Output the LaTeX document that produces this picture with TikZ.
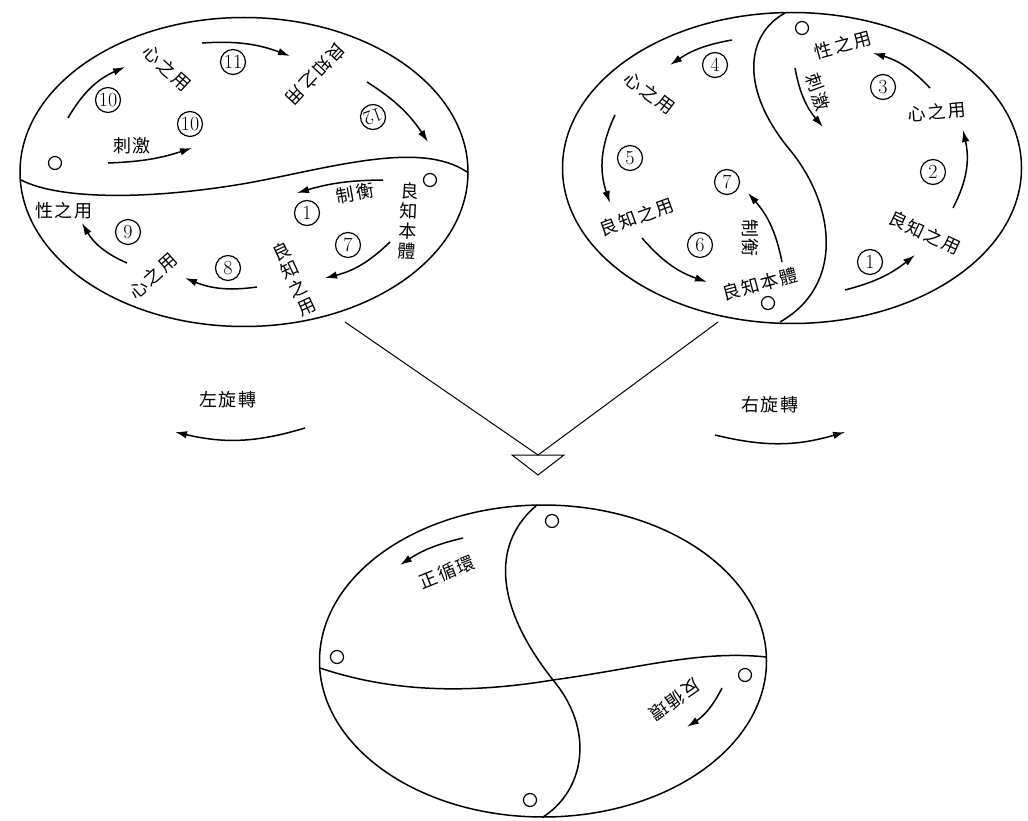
\documentclass[tikz,border=0pt]{standalone}
\usepackage{fontspec}
\newfontfamily\cjk[LetterSpace=10]{Noto Sans CJK TC}
\usetikzlibrary{arrows.meta,shapes.geometric}
\begin{document}
\begin{tikzpicture}[x=1pt,y=-1pt,
  ring/.style={draw, ellipse, inner sep=0pt, outer sep=0pt, line width=1.5pt},
  divline/.style={line width=1.5pt},
  dot/.style={draw, circle, minimum size=13pt, inner sep=0pt, line width=1.2pt},
  num/.style={draw, circle, minimum size=25pt, inner sep=0pt, line width=1.2pt, font=\fontsize{20}{20}\selectfont},
  lab/.style={font=\cjk\fontsize{18}{20}\selectfont, inner sep=0pt},
  vlab/.style={font=\cjk\fontsize{18}{20}\selectfont, inner sep=0pt, align=center},
  arr/.style={line width=1.5pt, -{Latex[length=12pt,width=7.5pt]}},
  thin/.style={line width=1pt}
]
\useasboundingbox (0,0) rectangle (1028,821);

% ---------- left ellipse ----------
\node[ring, minimum width=448pt, minimum height=309pt] (L) at (244,172) {};
\coordinate (Ld1) at (21,180);
\coordinate (Ld2) at (248,183);
\coordinate (Ld3) at (467,172);
\draw[divline] (Ld1) .. controls (60,200) and (150,200) .. (Ld2)
               .. controls (330,168) and (420,140) .. (Ld3);
\node[dot] (Lo1) at (55,163) {};
\node[dot] (Lo2) at (430,180) {};

\node[num] (Ln10a) at (108,100) {10};
\node[num] (Ln10b) at (190,124) {10};
\node[num] (Ln11) at (233,62) {11};
\node[num, rotate=200] (Ln12) at (373,117) {12};
\node[lab, rotate=-42] (Lt1) at (167,68) {心之用};
\node[lab, rotate=-133] (Lt2) at (316,74) {良知之用};
\node[lab] (Lt3) at (132,146) {刺激};
\coordinate (La10s) at (68,118);  \coordinate (La10e) at (125,67);
\coordinate (La11s) at (202,43);  \coordinate (La11e) at (290,56);
\coordinate (La12s) at (367,82);  \coordinate (La12e) at (428,142);
\coordinate (Lacs) at (108,163);  \coordinate (Lace) at (192,148);
\draw[arr] (La10s) to[bend left=18] (La10e);
\draw[arr] (La11s) to[bend left=12] (La11e);
\draw[arr] (La12s) to[bend left=12] (La12e);
\draw[arr] (Lacs) to[bend right=8] (Lace);

\node[lab] (Lt4) at (64,211) {性之用};
\node[num] (Ln9) at (128,232) {9};
\node[lab, rotate=42] (Lt5) at (153,276) {心之用};
\node[num] (Ln8) at (228,268) {8};
\node[vlab, rotate=25] (Lt6) at (294,279) {良\\知\\之\\用};
\node[num] (Ln7) at (348,245) {7};
\node[num] (Ln1) at (307,213) {1};
\node[lab, rotate=10] (Lt7) at (355,193) {制衡};
\node[vlab, rotate=-3] (Lt8) at (408,221) {良\\知\\本\\體};
\coordinate (La9s) at (127,263);  \coordinate (La9e) at (82,223);
\coordinate (La8s) at (257,287);  \coordinate (La8e) at (185,278);
\coordinate (La7s) at (390,242);  \coordinate (La7e) at (325,278);
\coordinate (La1s) at (383,180);  \coordinate (La1e) at (297,193);
\draw[arr] (La9s) to[bend left=18] (La9e);
\draw[arr] (La8s) to[bend left=15] (La8e);
\draw[arr] (La7s) to[bend left=15] (La7e);
\draw[arr] (La1s) to[bend right=8] (La1e);

% ---------- right ellipse ----------
\node[ring, minimum width=459pt, minimum height=311pt] (R) at (792,168) {};
\coordinate (Rd1) at (785,13);
\coordinate (Rd2) at (790,150);
\coordinate (Rd3) at (780,322);
\draw[divline] (Rd1) .. controls (745,35) and (740,90) .. (Rd2)
               .. controls (835,205) and (845,285) .. (Rd3);
\node[dot] (Ro1) at (802,28) {};
\node[dot] (Ro2) at (768,303) {};

\node[num] (Rn4) at (715,65) {4};
\node[lab, rotate=-37] (Rt1) at (650,93) {心之用};
\node[num] (Rn5) at (630,158) {5};
\node[lab, rotate=20] (Rt2) at (637,217) {良知之用};
\node[num] (Rn6) at (700,245) {6};
\node[lab, rotate=15] (Rt3) at (760,284) {良知本體};
\node[num] (Rn7) at (727,182) {7};
\node[lab, rotate=-90] (Rt4) at (750,238) {制衡};
\node[lab, rotate=15] (Rt5) at (843,45) {性之用};
\node[lab, rotate=-70] (Rt6) at (818,92) {刺激};
\node[num] (Rn3) at (883,87) {3};
\node[lab, rotate=5] (Rt7) at (937,112) {心之用};
\node[num] (Rn2) at (933,172) {2};
\node[lab, rotate=-25] (Rt8) at (925,233) {良知之用};
\node[num] (Rn1) at (870,262) {1};

\coordinate (Ra4s) at (732,40);   \coordinate (Ra4e) at (670,65);
\coordinate (Ra5s) at (615,115);  \coordinate (Ra5e) at (610,203);
\coordinate (Ra6s) at (642,238);  \coordinate (Ra6e) at (707,282);
\coordinate (Ra7s) at (782,262);  \coordinate (Ra7e) at (748,193);
\coordinate (Racs) at (795,68);   \coordinate (Race) at (823,127);
\coordinate (Ra3s) at (930,88);   \coordinate (Ra3e) at (873,53);
\coordinate (Ra2s) at (953,208);  \coordinate (Ra2e) at (963,130);
\coordinate (Ra1s) at (845,290);  \coordinate (Ra1e) at (915,255);
\draw[arr] (Ra4s) to[bend right=12] (Ra4e);
\draw[arr] (Ra5s) to[bend right=22] (Ra5e);
\draw[arr] (Ra6s) to[bend right=15] (Ra6e);
\draw[arr] (Ra7s) to[bend right=15] (Ra7e);
\draw[arr] (Racs) to[bend right=15] (Race);
\draw[arr] (Ra3s) to[bend right=15] (Ra3e);
\draw[arr] (Ra2s) to[bend right=20] (Ra2e);
\draw[arr] (Ra1s) to[bend right=12] (Ra1e);

% ---------- middle ----------
\coordinate (Lfoot) at (345,322);
\coordinate (Rfoot) at (718,322);
\coordinate (Tc) at (538,455);
\coordinate (T1) at (512,455);
\coordinate (T2) at (564,455);
\coordinate (T3) at (538,475);
\draw[thin] (Lfoot) -- (Tc);
\draw[thin] (Rfoot) -- (Tc);
\draw[thin] (T1) -- (T2) -- (T3) -- cycle;

\node[lab] (Mt1) at (228,400) {左旋轉};
\node[lab] (Mt2) at (770,405) {右旋轉};
\coordinate (Mls) at (305,428);  \coordinate (Mle) at (175,432);
\coordinate (Mrs) at (715,435);  \coordinate (Mre) at (845,432);
\draw[arr] (Mls) to[bend left=15] (Mle);
\draw[arr] (Mrs) to[bend right=15] (Mre);

% ---------- bottom ellipse ----------
\node[ring, minimum width=447pt, minimum height=312pt] (B) at (543,661) {};
\coordinate (Bv1) at (537,505);
\coordinate (Bv2) at (553,680);
\coordinate (Bv3) at (543,817);
\draw[divline] (Bv1) .. controls (495,540) and (490,600) .. (Bv2)
               .. controls (595,730) and (585,790) .. (Bv3);
\coordinate (Bh1) at (320,668);
\coordinate (Bh2) at (766,657);
\draw[divline] (Bh1) .. controls (400,695) and (480,692) .. (Bv2)
               .. controls (640,668) and (700,650) .. (Bh2);
\node[dot] (Bo1) at (552,521) {};
\node[dot] (Bo2) at (337,657) {};
\node[dot] (Bo3) at (745,675) {};
\node[dot] (Bo4) at (530,800) {};

\node[lab, rotate=22] (Bt1) at (447,572) {正循環};
\node[lab, rotate=-145] (Bt2) at (675,700) {反循環};
\coordinate (Bas) at (463,538);  \coordinate (Bae) at (400,565);
\coordinate (Bbs) at (722,688);  \coordinate (Bbe) at (687,727);
\draw[arr] (Bas) to[bend right=10] (Bae);
\draw[arr] (Bbs) to[bend left=15] (Bbe);
\end{tikzpicture}
\end{document}
